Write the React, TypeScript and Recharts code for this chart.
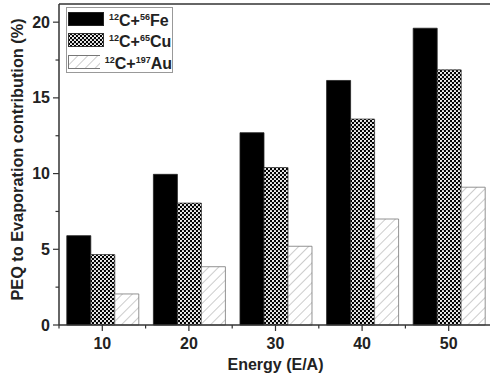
import React from "react";
import {
  BarChart,
  Bar,
  XAxis,
  YAxis,
  Legend,
  ReferenceLine,
} from "recharts";

const energies = ["10", "20", "30", "40", "50"];
const feValues = [5.9, 9.95, 12.7, 16.15, 19.6];
const cuValues = [4.65, 8.05, 10.4, 13.6, 16.85];
const auValues = [2.05, 3.85, 5.2, 7.0, 9.1];
const yTicks = [0, 2.5, 5, 7.5, 10, 12.5, 15, 17.5, 20];

const seriesInfo = [
  { key: "fe", mass: "56", el: "Fe", fill: "#000", stroke: "#222" },
  { key: "cu", mass: "65", el: "Cu", fill: "url(#dots)", stroke: "#333" },
  { key: "au", mass: "197", el: "Au", fill: "url(#hatch)", stroke: "#777" },
];

const data = energies.map((e, i) => ({
  energy: e,
  fe: feValues[i],
  cu: cuValues[i],
  au: auValues[i],
}));

const FONT = "'Liberation Sans', Arial, sans-serif";
const W = 494;
const H = 376;
const PLOT_LEFT = 59;
const PLOT_RIGHT = 492;
const BAND = (PLOT_RIGHT - PLOT_LEFT) / energies.length;

function Patterns() {
  return (
    <defs>
      <pattern id="dots" width="4" height="4" patternUnits="userSpaceOnUse">
        <rect width="4" height="4" fill="#000" />
        <circle cx="1" cy="1" r="1.1" fill="#fff" />
        <circle cx="3" cy="3" r="1.1" fill="#fff" />
      </pattern>
      <pattern id="hatch" width="7" height="7" patternUnits="userSpaceOnUse" patternTransform="rotate(45)">
        <rect width="7" height="7" fill="#fff" />
        <line x1="0" y1="0" x2="0" y2="7" stroke="#999" strokeWidth="1" />
      </pattern>
    </defs>
  );
}

function YTick(props: any) {
  const { x, y, payload } = props;
  const major = payload.value % 5 === 0;
  return (
    <g>
      <line x1={x} x2={x - (major ? 6 : 3.5)} y1={y} y2={y} stroke="#333" strokeWidth={1.2} />
      {major && (
        <text x={x - 9} y={y + 5.5} textAnchor="end" fontFamily={FONT} fontWeight="bold" fontSize={16} fill="#222">
          {payload.value}
        </text>
      )}
    </g>
  );
}

function XTick(props: any) {
  const { x, y, payload, index } = props;
  return (
    <g>
      <line x1={x} x2={x} y1={y} y2={y + 6} stroke="#333" strokeWidth={1.2} />
      <line x1={x - BAND / 2} x2={x - BAND / 2} y1={y} y2={y + 3.5} stroke="#333" strokeWidth={1.2} />
      {index === energies.length - 1 && (
        <line x1={x + BAND / 2} x2={x + BAND / 2} y1={y} y2={y + 3.5} stroke="#333" strokeWidth={1.2} />
      )}
      <text x={x} y={y + 23.5} textAnchor="middle" fontFamily={FONT} fontWeight="bold" fontSize={16} fill="#222">
        {payload.value}
      </text>
    </g>
  );
}

function Swatch({ fill, stroke }: { fill: string; stroke: string }) {
  return (
    <svg width={36} height={14} style={{ display: "block" }}>
      <rect x={0.5} y={0.5} width={35} height={13} fill={fill} stroke={stroke} strokeWidth={1} />
    </svg>
  );
}

function LegendBox() {
  return (
    <div
      style={{
        border: "1px solid #999",
        background: "#fff",
        width: 105,
        height: 64,
        boxSizing: "content-box",
        fontFamily: FONT,
        fontWeight: "bold",
        fontSize: 16,
        color: "#222",
      }}
    >
      {seriesInfo.map((s) => (
        <div key={s.key} style={{ display: "flex", alignItems: "center", height: 21.5, paddingLeft: 1 }}>
          <Swatch fill={s.fill} stroke={s.stroke} />
          <span style={{ marginLeft: 5, lineHeight: "16px", whiteSpace: "nowrap" }}>
            <sup style={{ fontSize: 9, verticalAlign: "6px" }}>12</sup>C+
            <sup style={{ fontSize: 9, verticalAlign: "6px" }}>{s.mass}</sup>
            {s.el}
          </span>
        </div>
      ))}
    </div>
  );
}

export default function App() {
  return (
    <div style={{ position: "absolute", left: 0, top: 0, width: 490, height: 376, overflow: "hidden", background: "#fff" }}>
      <BarChart
        width={W}
        height={H}
        data={data}
        margin={{ top: 4, right: W - PLOT_RIGHT, left: 0, bottom: 0 }}
        barCategoryGap="9%"
        barGap={0}
      >
        <Patterns />
        <XAxis
          dataKey="energy"
          height={51}
          tickLine={false}
          tickSize={0}
          tickMargin={0}
          stroke="#333"
          strokeWidth={1.5}
          tick={<XTick />}
          interval={0}
          label={{
            value: "Energy (E/A)",
            position: "insideBottom",
            offset: 6,
            fontFamily: FONT,
            fontWeight: "bold",
            fontSize: 16,
            fill: "#222",
          }}
        />
        <YAxis
          width={PLOT_LEFT}
          domain={[0, 21.2]}
          ticks={yTicks}
          interval={0}
          tickLine={false}
          tickSize={0}
          tickMargin={0}
          stroke="#333"
          strokeWidth={1.5}
          tick={<YTick />}
          label={{
            value: "PEQ to Evaporation contribution (%)",
            angle: -90,
            position: "center",
            dx: -12,
            dy: -5,
            fontFamily: FONT,
            fontWeight: "bold",
            fontSize: 16.3,
            fill: "#222",
          }}
        />
        <ReferenceLine y={21.2} stroke="#666" strokeWidth={2} />
        <Legend
          layout="vertical"
          align="center"
          verticalAlign="middle"
          content={() => <LegendBox />}
          wrapperStyle={{ position: "absolute", left: 66, top: 7, width: "auto" }}
        />
        {seriesInfo.map((s) => (
          <Bar
            key={s.key}
            dataKey={s.key}
            fill={s.fill}
            stroke={s.stroke}
            strokeWidth={0.8}
            isAnimationActive={false}
          />
        ))}
      </BarChart>
    </div>
  );
}
